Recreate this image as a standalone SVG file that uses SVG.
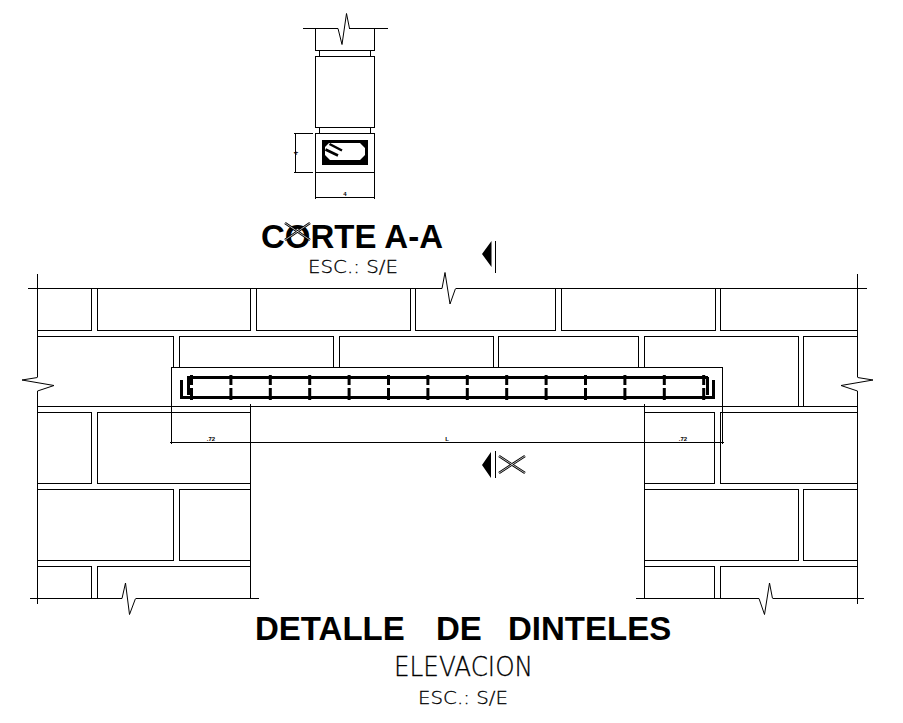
<svg xmlns="http://www.w3.org/2000/svg" width="903" height="723" viewBox="0 0 903 723">
<style>
.l{fill:none;stroke:#000;stroke-width:1;shape-rendering:crispEdges}
.z{fill:none;stroke:#000;stroke-width:1}
.bar{fill:none;stroke:#000;stroke-width:3;shape-rendering:crispEdges}
.h{font-family:"Liberation Sans",Arial,sans-serif;font-weight:700;font-size:33px;fill:#000;white-space:pre}
.t{font-family:"DejaVu Sans","Liberation Sans",sans-serif;font-weight:200;fill:#000;stroke:#000;stroke-width:.3}
.d{font-family:"Liberation Sans",Arial,sans-serif;font-weight:700;font-size:6px;fill:#000;text-anchor:middle}
.xo{fill:none;stroke:#000;stroke-width:2.500}
.xi{fill:none;stroke:#fff;stroke-width:.7}
</style>
<rect width="903" height="723" fill="#fff"/>
<g id="corte-a-a">
<path class="l" d="M302.500 28.500H338M349 28.500H388M315.500 28.500V50.500H374.500V28.500M319.500 50.500V56.500M370.500 50.500V56.500M315.500 56.500H374.500V127.500H315.500ZM319.500 127.500V133.500M370.500 127.500V133.500M315.500 133.500H374.500V172.500H315.500ZM294 133.500H313M294 172.500H313M295.500 133V173M315.500 172.500V199M374.500 172.500V199M315 197.500H375"/>
<path class="z" d="M338 28.500L342 44.500L346.500 13.500L349.500 28.500"/>
<path fill="#000" fill-rule="evenodd" d="M322 140H368V165H322ZM329 143L325 147V155L330 160H360L365 155V148L360 143Z"/>
<path d="M329.500 144L342 150.500M325.500 149.500L338 155.500" fill="none" stroke="#000" stroke-width="2.500"/>
<text class="d" x="345" y="195.500">4</text>
<text class="d" transform="translate(298 153) rotate(-90)">4</text>
<text class="h" x="261" y="248" textLength="182" lengthAdjust="spacingAndGlyphs">CORTE A-A</text>
<path class="xo" d="M285 223L310 240M310 223L285 240"/>
<path class="xi" d="M285 223L310 240M310 223L285 240"/>
<text class="t" x="308" y="273" font-size="18" textLength="90" lengthAdjust="spacingAndGlyphs">ESC.: S/E</text>
</g>
<g id="muro">
<path class="l" d="M28 288.500H442M456 288.500H867M37.500 274V377M37.500 391V604M857.500 274V377M857.500 391V604"/>
<path class="l" d="M37.500 330.500H91.500V288.500M97.500 288.500V330.500H250.500V288.500M256.500 288.500V330.500H410.500V288.500M415.500 288.500V330.500H555.500V288.500M561.500 288.500V330.500H715.500V288.500M720.500 288.500V330.500H857.500"/>
<path class="l" d="M37.500 336.500H173.500V367M179.500 367V336.500H333.500V367M339.500 367V336.500H493.500V367M498.500 367V336.500H638.500V367M644.500 367V336.500H798.500V406.500M803.500 406.500V336.500H857.500"/>
<path class="l" d="M37.500 406.500H857.500"/>
<path class="l" d="M37.500 412.500H91.500V483.500H37.500M97.500 483.500V412.500H250.500M97.500 483.500H250.500M644.500 412.500H714.500V483.500H644.500M720.500 483.500V412.500H857.500M720.500 483.500H857.500"/>
<path class="l" d="M37.500 489.500H173.500V560.500H37.500M179.500 560.500V489.500H250.500M179.500 560.500H250.500M644.500 489.500H798.500V560.500H644.500M803.500 560.500V489.500H857.500M803.500 560.500H857.500"/>
<path class="l" d="M37.500 566.500H91.500V598.500M97.500 598.500V566.500H250.500M644.500 566.500H714.500V598.500M720.500 598.500V566.500H857.500"/>
<path class="l" d="M30 598.500H122M136 598.500H259M636 598.500H759M773 598.500H864M250.500 404V598.500M644.500 404V598.500"/>
<path class="z" d="M442 288.500L445 272.500L450 304L455.500 288.500M122 598.500L125.500 583L129.500 614.500L135.500 598.500M759 598.500L764.500 614.500L769.500 583L772.500 598.500M37.500 377.500L22 380L54 385.500L37.500 391M857.500 377.500L873 380L841 385.500L857.500 391"/>
</g>
<g id="dintel">
<path class="l" d="M171.500 444V367.500H722.500V444M170 442.500H724"/>
<path class="bar" d="M187 377.500H708M190 397.500H704M181.500 380V397.500H713.500V380M188 377V395M707 377V395"/>
<path d="M191.500 375V385M191.500 388V400M230.900 375V385M230.900 388V400M270.300 375V385M270.300 388V400M309.700 375V385M309.700 388V400M349.100 375V385M349.100 388V400M388.500 375V385M388.500 388V400M427.900 375V385M427.900 388V400M467.300 375V385M467.300 388V400M506.700 375V385M506.700 388V400M546.100 375V385M546.100 388V400M585.500 375V385M585.500 388V400M624.900 375V385M624.900 388V400M664.300 375V385M664.300 388V400M703.700 375V385M703.700 388V400" fill="none" stroke="#000" stroke-width="3"/>
<text class="d" x="211" y="441">.72</text>
<text class="d" x="447" y="441">L</text>
<text class="d" x="683" y="441">.72</text>
</g>
<g id="corte-marca">
<path d="M482 254L491.500 241V267ZM482 465L491 452V478Z" fill="#000"/>
<path class="l" d="M495.500 241V273M495.500 451V478"/>
<path class="xo" d="M499 456L525 473M525 456L499 473"/>
<path class="xi" d="M499 456L525 473M525 456L499 473"/>
</g>
<g id="titulo">
<text class="h" y="640"><tspan x="255">DETALLE</tspan><tspan x="436">DE</tspan><tspan x="508">DINTELES</tspan></text>
<text class="t" x="394" y="676" font-size="27" textLength="139" lengthAdjust="spacingAndGlyphs">ELEVACION</text>
<text class="t" x="418" y="704" font-size="18" textLength="90" lengthAdjust="spacingAndGlyphs">ESC.: S/E</text>
</g>
</svg>
